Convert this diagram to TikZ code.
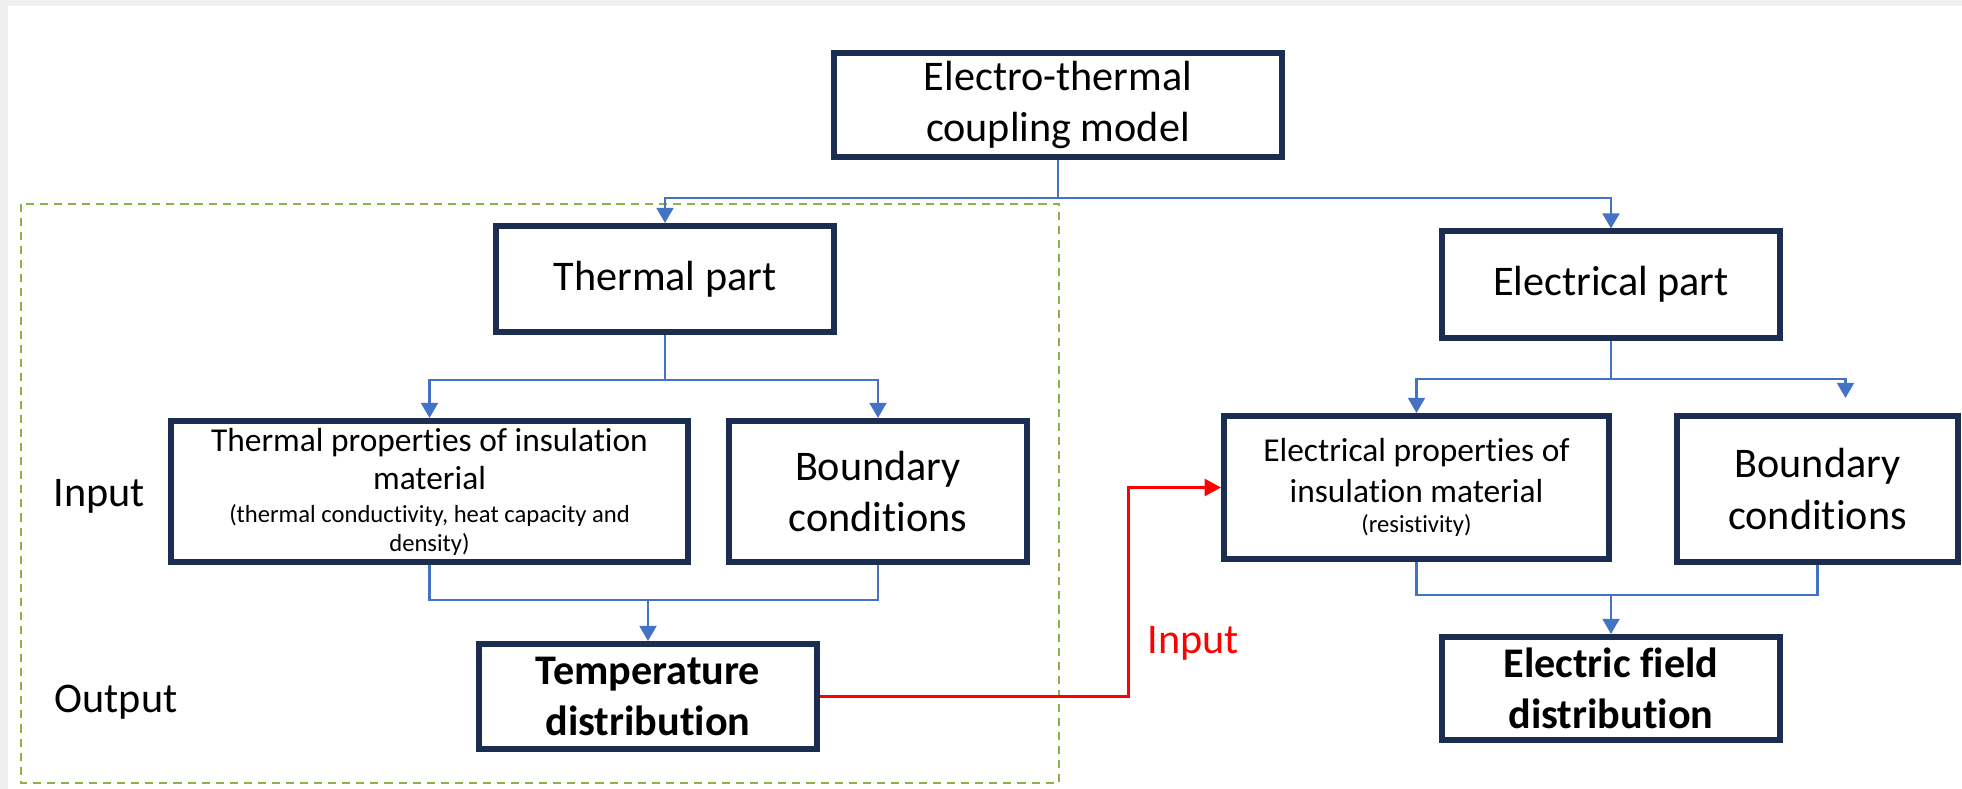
\documentclass[tikz,border=0pt]{standalone}
\usepackage{xcolor}
\usepackage{fontspec}
\setmainfont{Carlito}[Ligatures=NoCommon]
\usepackage{tikz}
\usetikzlibrary{arrows.meta}

\definecolor{boxnavy}{RGB}{28,45,82}
\definecolor{linkblue}{RGB}{68,114,196}
\definecolor{framegreen}{RGB}{141,180,64}
\definecolor{pagegray}{RGB}{240,239,237}

\begin{document}
\begin{tikzpicture}[
    x=0.01cm, y=-0.01cm,
    block/.style={draw=boxnavy, line width=1.7pt, fill=white, align=center, inner sep=2pt, font=\fontsize{12}{14.6}\selectfont},
    partbox/.style={block, minimum width=3.37cm, minimum height=1.06cm},
    wire/.style={draw=linkblue, line width=0.7pt},
    flow/.style={wire, -{Triangle[width=4.8pt, length=4.3pt]}},
    redflow/.style={draw=red, line width=0.7pt, -{Triangle[width=4.8pt, length=4.6pt]}},
    sidelabel/.style={anchor=base west, inner sep=0pt, font=\fontsize{12}{14.6}\selectfont}
]
\useasboundingbox (0,0) rectangle (1962,789);
\fill[pagegray] (0,0) rectangle (1962,789);
\fill[white] (8,6) rectangle (1962,789);
\draw[framegreen, line width=0.6pt, dash pattern=on 2.3pt off 1.7pt] (21,204) rectangle (1059,783);

\node[block, minimum width=4.48cm, minimum height=1.04cm] (top) at (1058,105) {Electro-thermal\\coupling model};
\node[partbox] (thermal) at (665,279) {Thermal part};
\node[partbox] (electrical) at (1611,284.5) {Electrical part};
\node[block, font=\fontsize{9.5}{11}\selectfont, minimum width=5.17cm, minimum height=1.41cm] (tprop) at (429.5,491.5)
    {Thermal properties of insulation\\material\\[-1.6pt]{\fontsize{7}{8}\selectfont (thermal conductivity, heat capacity and}\\[-3pt]{\fontsize{7}{8}\selectfont density)}};
\node[block, minimum width=2.98cm, minimum height=1.41cm] (tbound) at (878,491.5) {Boundary\\conditions};
\node[partbox, font=\fontsize{12}{14.6}\selectfont\bfseries, minimum height=1.05cm] (temp) at (648,696.5) {Temperature\\distribution};
\node[block, font=\fontsize{9.5}{11.7}\selectfont, minimum width=3.85cm, minimum height=1.43cm] (eprop) at (1416.5,487.5)
    {Electrical properties of\\insulation material\\[-3.2pt]{\fontsize{7}{8}\selectfont (resistivity)}};
\node[block, minimum width=2.81cm, minimum height=1.46cm] (ebound) at (1817.5,489) {Boundary\\conditions};
\node[partbox, font=\fontsize{12}{14.6}\selectfont\bfseries, minimum height=1.03cm] (efield) at (1611,688.5) {Electric field\\distribution};

\node[sidelabel] (inlabel) at (53,507) {Input};
\node[sidelabel] (outlabel) at (54,713) {Output};
\node[sidelabel, text=red] (redlabel) at (1147,654) {Input};

\draw[wire] (top.south) -- ++(0,38) coordinate (topsplit);
\draw[flow] (topsplit) -| (thermal.north);
\draw[flow] (topsplit) -| (electrical.north);

\draw[wire] (thermal.south) -- ++(0,45) coordinate (tsplit);
\draw[flow] (tsplit) -| (tprop.north);
\draw[flow] (tsplit) -| (tbound.north);
\path (temp.north) ++(0,-41) coordinate (tmerge);
\draw[wire] (tprop.south) |- (tmerge) -| (tbound.south);
\draw[flow] (tmerge) -- (temp.north);

\draw[wire] (electrical.south) -- ++(0,38.5) coordinate (esplit);
\draw[flow] (esplit) -| (eprop.north);
\draw[flow] (esplit) -| ([xshift=0.28cm, yshift=0.15cm]ebound.north);
\path (efield.north) ++(0,-39) coordinate (emerge);
\draw[wire] (eprop.south) |- (emerge) -| (ebound.south);
\draw[flow] (emerge) -- (efield.north);

\draw[redflow] (temp.east) -- ++(309,0) |- (eprop.west);
\end{tikzpicture}
\end{document}
